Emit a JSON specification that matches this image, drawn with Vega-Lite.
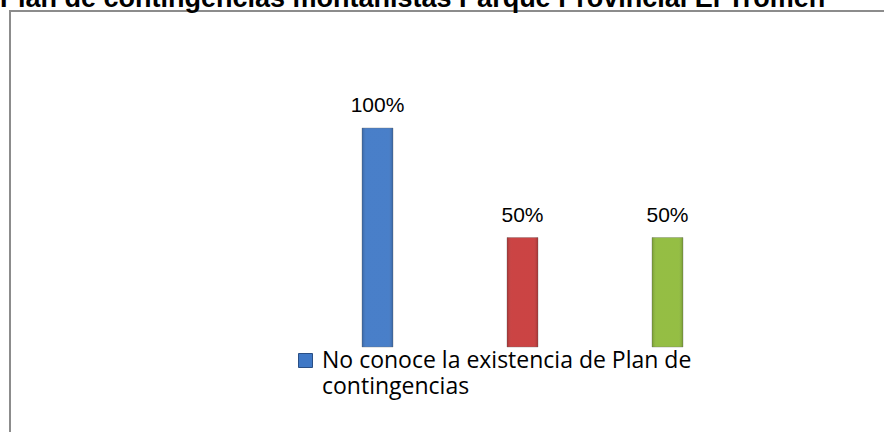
{
  "$schema": "https://vega.github.io/schema/vega-lite/v6.json",
  "autosize": "none",
  "width": 900,
  "height": 440,
  "padding": {"left": 10, "top": 11, "right": 0, "bottom": 0},
  "background": "white",
  "title": {
    "text": "Plan de contingencias montañistas Parque Provincial El Tromen",
    "anchor": "start",
    "frame": "group",
    "font": "Liberation Sans",
    "fontSize": 27,
    "fontWeight": "bold",
    "color": "#000000",
    "baseline": "alphabetic",
    "offset": 0,
    "dx": -10,
    "dy": 23
  },
  "config": {
    "view": {"stroke": "#8c8c8c", "strokeWidth": 2}
  },
  "data": {
    "values": [
      {"serie": "No conoce la existencia de Plan de contingencias", "valor": 1.0},
      {"serie": "Conoce el Plan de contingencias", "valor": 0.5},
      {"serie": "No responde", "valor": 0.5}
    ]
  },
  "encoding": {
    "x": {
      "field": "serie",
      "type": "nominal",
      "sort": null,
      "axis": null,
      "scale": {"range": [295, 730], "paddingInner": 0, "paddingOuter": 0}
    },
    "y": {
      "field": "valor",
      "type": "quantitative",
      "axis": null,
      "scale": {"domain": [0, 1], "range": [336, 117]}
    }
  },
  "layer": [
    {
      "mark": {"type": "bar", "width": 31, "stroke": "#6b6b6b", "strokeOpacity": 0.35, "strokeWidth": 1},
      "encoding": {
        "color": {
          "field": "serie",
          "type": "nominal",
          "sort": null,
          "scale": {
            "domain": ["No conoce la existencia de Plan de contingencias", "Conoce el Plan de contingencias", "No responde"],
            "range": ["#3f78c6", "#c83a3a", "#8fbb3a"]
          },
          "legend": {
            "orient": "none",
            "legendX": 284,
            "legendY": 338,
            "title": null,
            "values": ["No conoce la existencia de Plan de contingencias"],
            "symbolType": "square",
            "symbolSize": 196,
            "symbolStrokeColor": "#2a4f85",
            "symbolStrokeWidth": 1,
            "labelFont": "Open Sans",
            "labelFontSize": 23,
            "labelColor": "#000000",
            "labelOffset": 5,
            "labelBaseline": "alphabetic",
            "labelLimit": 600,
            "labelExpr": "['No conoce la existencia de Plan de', 'contingencias']",
            "encoding": {"labels": {"dy": {"value": 7}, "lineHeight": {"value": 26}}}
          }
        }
      }
    },
    {
      "mark": {"type": "bar", "width": 31, "fill": {"gradient": "linear", "x1": 0, "x2": 1, "y1": 0, "y2": 0, "stops": [{"offset": 0, "color": "rgba(0,0,0,0.18)"}, {"offset": 0.15, "color": "rgba(255,255,255,0.05)"}, {"offset": 0.85, "color": "rgba(255,255,255,0.05)"}, {"offset": 1, "color": "rgba(0,0,0,0.18)"}]}}
    },
    {
      "mark": {"type": "text", "dy": -16, "baseline": "alphabetic", "font": "Liberation Sans", "fontSize": 21, "color": "#000000"},
      "encoding": {
        "text": {"field": "valor", "type": "quantitative", "format": ".0%"}
      }
    }
  ]
}
